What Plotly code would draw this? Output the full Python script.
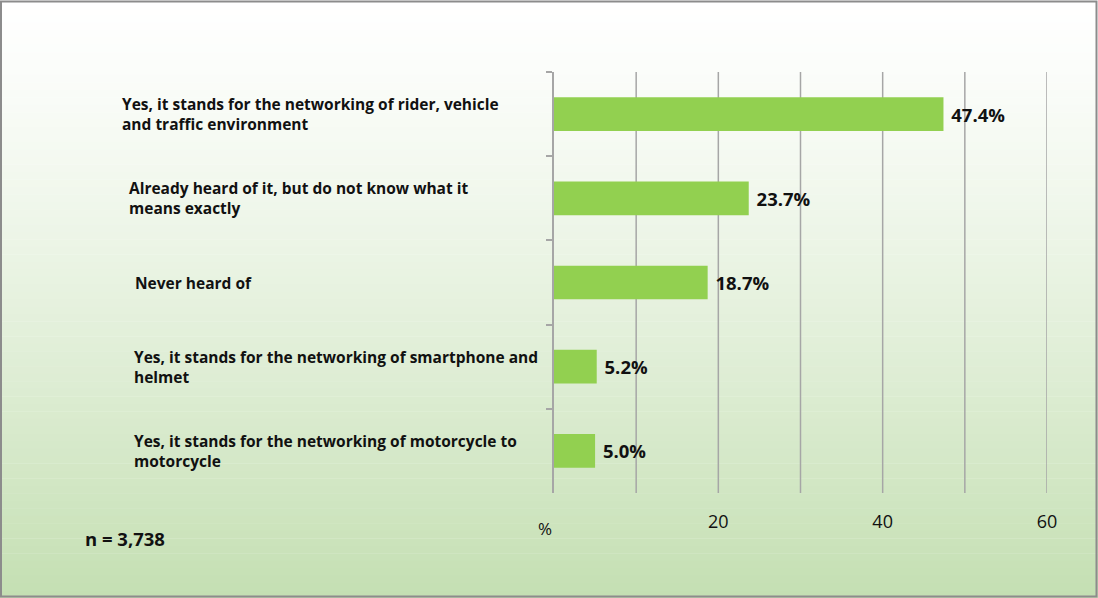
import plotly.graph_objects as go

categories = [
    "Yes, it stands for the networking of rider, vehicle<br>and traffic environment",
    "Already heard of it, but do not know what it<br>means exactly",
    "Never heard of",
    "Yes, it stands for the networking of smartphone and<br>helmet",
    "Yes, it stands for the networking of motorcycle to<br>motorcycle",
]
values = [47.4, 23.7, 18.7, 5.2, 5.0]
value_labels = ["47.4%", "23.7%", "18.7%", "5.2%", "5.0%"]
tick_vals = [20, 40, 60]
tick_text = ["20", "40", "60"]
grid_vals = [10, 20, 30, 40, 50, 60]
label_offsets_px = [120, 127, 133, 132, 132]

W, H = 1098, 598
L, R, T, B = 554, 51, 72, 105
PW, PH = W - L - R, H - T - B
FONT = "Open Sans"
GRID = "#a6a6a6"

fig = go.Figure()
fig.add_trace(go.Bar(
    y=categories, x=values, orientation="h",
    marker=dict(color="#92D050", line=dict(width=0)),
    width=0.4,
    text=["<b>&nbsp;%s</b>" % v for v in value_labels], textposition="outside", cliponaxis=False,
    textfont=dict(family=FONT, size=18.5, color="#111111"),
    hoverinfo="skip",
))

# gradient background
shapes = []
n = 80
c0 = (255, 255, 255)
c1 = (196, 223, 178)
for i in range(n):
    t = (i + 0.5) / n
    f = t ** 1.25
    col = tuple(round(c0[k] + (c1[k] - c0[k]) * f) for k in range(3))
    shapes.append(dict(type="rect", xref="paper", yref="paper", layer="below",
                       x0=-L / PW, x1=(W - L) / PW,
                       y0=1 + T / PH - (i + 1) * (H / n) / PH - 0.001,
                       y1=1 + T / PH - i * (H / n) / PH,
                       fillcolor="rgb(%d,%d,%d)" % col, line=dict(width=0)))
# vertical gridlines
for g in grid_vals:
    shapes.append(dict(type="line", xref="x", yref="paper", layer="below",
                       x0=g, x1=g, y0=0, y1=1, line=dict(color=GRID, width=1.5)))
# border
shapes.append(dict(type="rect", xref="paper", yref="paper", layer="above",
                   x0=(-L + 1) / PW, x1=(W - L - 1.5) / PW,
                   y0=-(B - 1.5) / PH, y1=1 + (T - 1.5) / PH,
                   line=dict(color="#8c8c8c", width=2)))

annotations = []
for c, off in zip(categories, label_offsets_px):
    annotations.append(dict(
        x=(off - L) / PW, xref="paper", y=c, yref="y",
        xanchor="left", yanchor="middle", align="left", showarrow=False,
        text="<b>%s</b>" % c, font=dict(family=FONT, size=15.5, color="#111111")))
annotations.append(dict(x=(545 - L) / PW, xref="paper", y=-(528 - (H - B)) / PH,
                        yref="paper", text="%", showarrow=False, xanchor="center", yanchor="middle",
                        font=dict(family=FONT, size=17, color="#111111")))
annotations.append(dict(x=(83 - L) / PW, xref="paper", y=-(538 - (H - B)) / PH,
                        yref="paper", text="<b>n = 3,738</b>", showarrow=False, xanchor="left",
                        yanchor="middle", font=dict(family=FONT, size=18.5, color="#111111")))

fig.update_layout(
    width=W, height=H, margin=dict(l=L, r=R, t=T, b=B),
    paper_bgcolor="white", plot_bgcolor="rgba(0,0,0,0)",
    showlegend=False, shapes=shapes, annotations=annotations,
    font=dict(family=FONT, color="#111111"),
    xaxis=dict(range=[0, 60], tickvals=tick_vals, ticktext=tick_text,
               showgrid=False, zeroline=False, showline=False, ticks="",
               tickfont=dict(family=FONT, size=18, color="#111111"), ticklabelstandoff=16),
    yaxis=dict(type="category", categoryorder="array", categoryarray=categories,
               autorange="reversed", showticklabels=False,
               tickson="boundaries", ticks="outside", ticklen=6, tickcolor=GRID,
               tickwidth=1.5, showline=True, linecolor=GRID, linewidth=1.5,
               showgrid=False, zeroline=False),
)
fig.write_html("out.html")
